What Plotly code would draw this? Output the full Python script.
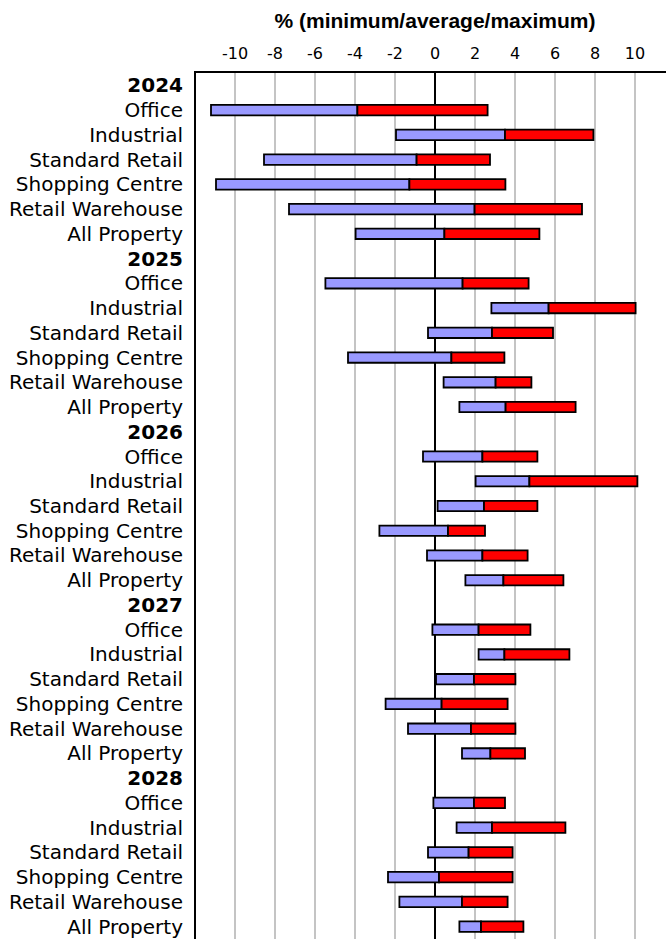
import plotly.graph_objects as go

years = ["2024", "2025", "2026", "2027", "2028"]
sectors = ["Office", "Industrial", "Standard Retail", "Shopping Centre", "Retail Warehouse", "All Property"]

min_2024 = [-11.2, -1.95, -8.55, -10.95, -7.3, -3.97]
avg_2024 = [-3.88, 3.5, -0.92, -1.28, 1.98, 0.47]
max_2024 = [2.63, 7.92, 2.75, 3.52, 7.35, 5.22]

min_2025 = [-5.48, 2.82, -0.35, -4.35, 0.43, 1.22]
avg_2025 = [1.38, 5.68, 2.85, 0.82, 3.03, 3.53]
max_2025 = [4.68, 10.03, 5.9, 3.47, 4.82, 7.03]

min_2026 = [-0.6, 2.03, 0.13, -2.78, -0.4, 1.52]
avg_2026 = [2.37, 4.72, 2.45, 0.65, 2.37, 3.42]
max_2026 = [5.12, 10.12, 5.12, 2.5, 4.63, 6.42]

min_2027 = [-0.13, 2.18, 0.05, -2.47, -1.35, 1.35]
avg_2027 = [2.18, 3.47, 1.95, 0.33, 1.8, 2.77]
max_2027 = [4.77, 6.72, 4.02, 3.63, 4.02, 4.5]

min_2028 = [-0.08, 1.08, -0.35, -2.35, -1.78, 1.22]
avg_2028 = [1.95, 2.85, 1.68, 0.2, 1.35, 2.3]
max_2028 = [3.5, 6.52, 3.88, 3.88, 3.63, 4.42]

mins = [min_2024, min_2025, min_2026, min_2027, min_2028]
avgs = [avg_2024, avg_2025, avg_2026, avg_2027, avg_2028]
maxs = [max_2024, max_2025, max_2026, max_2027, max_2028]

tick_values = [-10, -8, -6, -4, -2, 0, 2, 4, 6, 8, 10]
tick_text = ["-10", "-8", "-6", "-4", "-2", "0", "2", "4", "6", "8", "10"]

ypos, labels = [], []
mn, av, mx = [], [], []
i = 0
for yi, yr in enumerate(years):
    ypos.append(i); labels.append("<b>" + yr + "</b>")
    mn.append(None); av.append(None); mx.append(None)
    i += 1
    for si, s in enumerate(sectors):
        ypos.append(i); labels.append(s)
        mn.append(mins[yi][si]); av.append(avgs[yi][si]); mx.append(maxs[yi][si])
        i += 1

low_len = [None if a is None else a - b for a, b in zip(av, mn)]
high_len = [None if a is None else b - a for a, b in zip(av, mx)]

fig = go.Figure()
fig.add_trace(go.Bar(y=ypos, x=low_len, base=mn, orientation="h", width=0.42,
                     marker=dict(color="#9999FF", line=dict(color="black", width=1.8)),
                     showlegend=False))
fig.add_trace(go.Bar(y=ypos, x=high_len, base=av, orientation="h", width=0.42,
                     marker=dict(color="#FF0000", line=dict(color="black", width=1.8)),
                     showlegend=False))

fig.update_layout(
    width=666, height=939,
    margin=dict(l=196, r=0, t=73, b=0),
    plot_bgcolor="white", paper_bgcolor="white",
    barmode="overlay",
    title=dict(text="<b>% (minimum/average/maximum)</b>", x=435 / 666, xanchor="center",
               y=1 - 21 / 939, yanchor="middle",
               font=dict(family="Liberation Sans Narrow, Arial Narrow, Liberation Sans, sans-serif", size=21, color="black")),
    xaxis=dict(side="top", range=[-11.95, 11.55], tickvals=tick_values, ticktext=tick_text,
               tickfont=dict(family="DejaVu Sans, sans-serif", size=16, color="black"),
               showgrid=True, gridcolor="#c4c4c4", gridwidth=2,
               zeroline=True, zerolinecolor="black", zerolinewidth=1.5,
               showline=True, linecolor="black", linewidth=2, ticks="", ticklabelstandoff=6),
    yaxis=dict(range=[34.5, -0.5], tickvals=ypos, ticktext=labels,
               tickfont=dict(family="DejaVu Sans, sans-serif", size=20, color="black"),
               showgrid=False, zeroline=False, showline=True, linecolor="black", linewidth=2,
               ticks="", ticklabelstandoff=7),
)

fig.write_html("out.html", config={"displayModeBar": False},
               post_script="document.body.style.margin='0';document.body.style.overflow='hidden';")
